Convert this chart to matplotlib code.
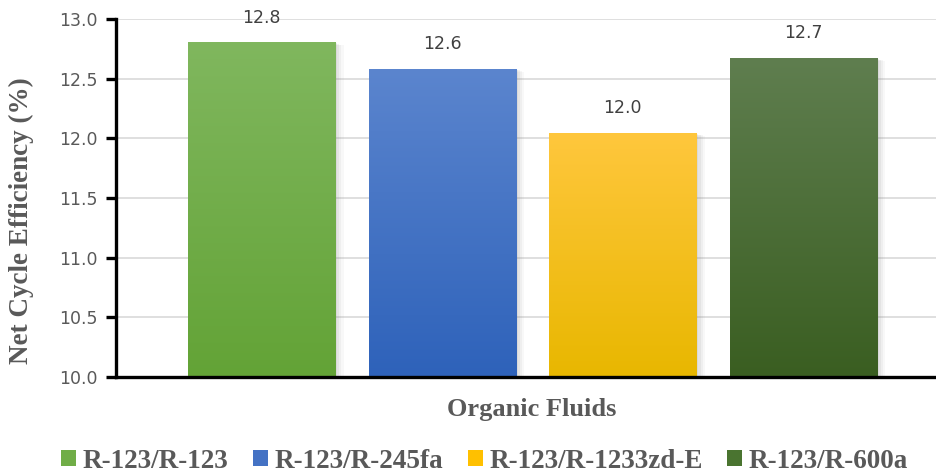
import matplotlib
matplotlib.use("Agg")
import matplotlib.pyplot as plt
import numpy as np
from matplotlib.colors import LinearSegmentedColormap
from matplotlib.patches import Rectangle
import matplotlib.patheffects as pe

categories = ["R-123/R-123", "R-123/R-245fa", "R-123/R-1233zd-E", "R-123/R-600a"]
values = [12.80, 12.58, 12.04, 12.67]
labels = ["12.8", "12.6", "12.0", "12.7"]
top_colors = ["#80B75E", "#5B85CE", "#FFC73D", "#5F7E4F"]
bottom_colors = ["#63A336", "#2E62BA", "#E8B700", "#3A5E21"]
mid_colors = ["#70AD47", "#4472C4", "#FFC000", "#4A7430"]
yticks = [10.0, 10.5, 11.0, 11.5, 12.0, 12.5, 13.0]

gray = "#595959"
fig = plt.figure(figsize=(9.36, 4.75), dpi=100)
ax = fig.add_axes([116/936, 98/475, 1 - 116/936, 358/475])

x = np.arange(len(categories))
bars = ax.bar(x, [v - 10 for v in values], bottom=10, width=0.815, color="none", zorder=2)

grad = np.linspace(1, 0, 256).reshape(-1, 1)
for i, b in enumerate(bars):
    x0, w = b.get_x(), b.get_width()
    top = b.get_y() + b.get_height()
    for k, a in zip([6, 4.5, 3, 1.5], [0.05, 0.07, 0.09, 0.11]):
        sh = Rectangle((x0, 10), w, top - 10, facecolor="black", edgecolor="none", zorder=1.5)
        sh.set_path_effects([pe.withSimplePatchShadow(offset=(k, -k * 0.3), shadow_rgbFace="gray", alpha=a)])
        sh.set_alpha(0)
        ax.add_patch(sh)
    cmap = LinearSegmentedColormap.from_list(f"g{i}", [bottom_colors[i], top_colors[i]])
    ax.imshow(grad, extent=[x0, x0 + w, 10, top], aspect="auto", cmap=cmap,
              vmin=0, vmax=1, origin="upper", zorder=2.5)
    ax.text(x[i], top + 0.135, labels[i], ha="center", va="bottom",
            fontsize=12.5, color="#404040", family="DejaVu Sans")
    ax.bar([x[i]], [0], color=mid_colors[i], label=categories[i])

ax.set_xlim(-0.806, 3.734)
ax.set_ylim(10, 13)
ax.set_yticks(yticks)
ax.set_yticklabels([f"{t:.1f}" for t in yticks], fontsize=12.5, color=gray, family="DejaVu Sans")
ax.set_xticks([])
ax.yaxis.grid(True, color="#D9D9D9", linewidth=1.2, zorder=0)
ax.set_axisbelow(True)
for s in ["top", "right"]:
    ax.spines[s].set_visible(False)
for s in ["left", "bottom"]:
    ax.spines[s].set_linewidth(2.4)
    ax.spines[s].set_color("black")
ax.tick_params(axis="y", direction="out", length=7, width=2.4, color="black", pad=6)

ax.set_ylabel("Net Cycle Efficiency (%)", fontsize=19.5, fontweight="bold",
              family="Liberation Serif", color=gray)
ax.yaxis.set_label_coords(-0.100, 0.436)
ax.set_xlabel("Organic Fluids", fontsize=19, fontweight="bold",
              family="Liberation Serif", color=gray)
ax.xaxis.set_label_coords(0.507, -0.058)

leg = fig.legend(loc="center", bbox_to_anchor=(0.518, 1 - 461/475), ncol=4, frameon=False,
                 prop={"family": "Liberation Serif", "weight": "bold", "size": 19.5},
                 handlelength=0.55, handleheight=0.55, handletextpad=0.25, columnspacing=0.9)
for t in leg.get_texts():
    t.set_color(gray)

fig.savefig("out.png", dpi=100)
